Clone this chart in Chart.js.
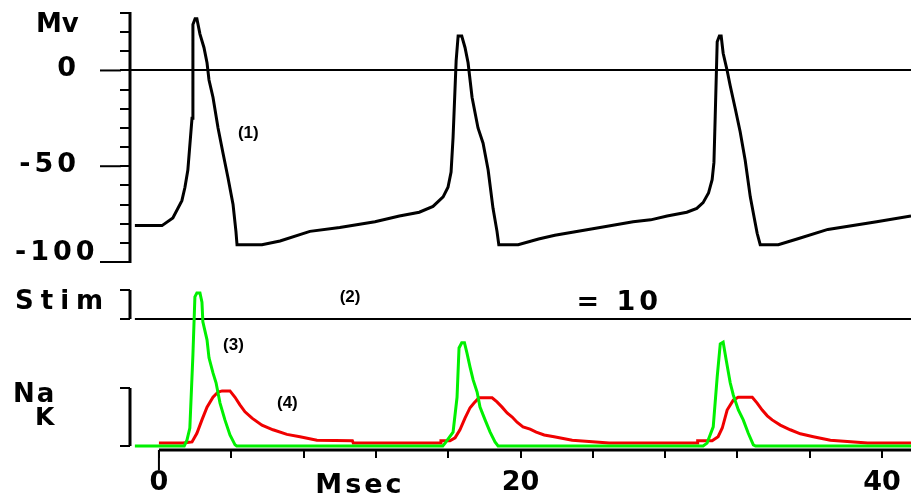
<!DOCTYPE html>
<html>
<head>
<meta charset="utf-8">
<title>Membrane potential, Na and K conductance</title>
<script src="https://cdn.jsdelivr.net/npm/chart.js@4.4.0/dist/chart.umd.min.js"></script>
<style>
  html, body { margin: 0; padding: 0; background: #fff; }
  #wrap { width: 911px; height: 495px; }
</style>
</head>
<body>
<div id="wrap"><canvas id="trace"></canvas></div>
<script>
// (1) membrane potential, time in ms, value in mV
const vTime = [-1.33, 0.17, 0.77, 1.27, 1.44, 1.6, 1.83, 1.88, 2.0, 2.1,
  2.27, 2.49, 2.66, 2.77, 2.99, 3.27, 3.54, 3.82, 4.1, 4.26,
  4.32, 5.7, 6.7, 8.35, 10.0, 11.95, 13.3, 14.4, 15.16, 15.72,
  15.99, 16.16, 16.27, 16.44, 16.55, 16.75, 16.93, 17.1, 17.32, 17.65,
  17.93, 18.21, 18.48, 18.7, 18.8, 19.87, 21.0, 21.9, 24.4, 26.23,
  27.2, 28.11, 29.2, 29.75, 30.1, 30.4, 30.6, 30.7, 30.77, 30.88,
  31.0, 31.1, 31.21, 31.43, 31.6, 31.88, 32.15, 32.43, 32.71, 32.93,
  33.09, 33.26, 34.26, 35.3, 37.0, 39.7, 41.6];
const vMv = [-81, -81, -77, -68, -61, -52, -25, 24, 27, 27,
  19, 12, 4, -5, -14, -30, -43, -56, -70, -84,
  -91, -91, -89, -84, -82, -79, -76, -74, -71, -66,
  -61, -53, -35, 5, 18, 18, 12, 4, -14, -30,
  -38, -52, -72, -84, -91, -91, -88, -86, -82, -79,
  -78, -76, -74, -72, -69, -64, -57, -48, -24, 15,
  18, 18, 9, 0, -8, -20, -32, -47, -66, -77,
  -85, -91, -91, -88, -83, -79, -76];

// (3) Na conductance, relative units (1 = top of the Na/K bracket)
const naTime = [-1.33, 1.4, 1.55, 1.71, 1.88, 1.99, 2.1, 2.27, 2.38, 2.43,
  2.66, 2.77, 2.99, 3.16, 3.38, 3.65, 3.93, 4.21, 4.3, 15.7,
  15.83, 16.27, 16.49, 16.6, 16.75, 16.9, 17.04, 17.21, 17.38, 17.6,
  17.76, 18.04, 18.32, 18.59, 18.76, 30.1, 30.32, 30.66, 30.88, 31.05,
  31.21, 31.38, 31.6, 31.77, 32.05, 32.32, 32.6, 32.88, 33.0, 41.6];
const naG = [0, 0, 0.1, 0.31, 1.57, 2.57, 2.64, 2.64, 2.48, 2.14,
  1.83, 1.52, 1.26, 1.09, 0.74, 0.45, 0.19, 0.02, 0, 0,
  0.05, 0.24, 0.84, 1.69, 1.78, 1.78, 1.6, 1.36, 1.14, 0.93,
  0.67, 0.45, 0.24, 0.07, 0, 0, 0.05, 0.33, 1.19, 1.76,
  1.79, 1.48, 1.09, 0.88, 0.62, 0.45, 0.22, 0.02, 0, 0];

// (4) K conductance, same units
const kTime = [0, 1.33, 1.83, 2.1, 2.38, 2.66, 2.99, 3.27, 3.5, 3.93,
  4.21, 4.48, 4.76, 5.15, 5.7, 6.31, 7.08, 7.8, 8.74, 10.7,
  10.75, 15.55, 15.6, 16.1, 16.38, 16.65, 16.93, 17.21, 17.43, 17.7,
  18.43, 18.7, 18.98, 19.26, 19.54, 19.81, 20.14, 20.53, 20.87, 21.31,
  21.86, 22.86, 24.9, 29.77, 29.8, 30.6, 30.93, 31.16, 31.43, 31.77,
  32.04, 32.82, 33.09, 33.37, 33.65, 33.92, 34.37, 34.92, 35.48, 36.2,
  37.14, 39.2, 41.6];
const kG = [0.05, 0.05, 0.07, 0.22, 0.45, 0.67, 0.84, 0.93, 0.95, 0.95,
  0.84, 0.71, 0.59, 0.48, 0.36, 0.28, 0.2, 0.16, 0.1, 0.09,
  0.05, 0.05, 0.09, 0.09, 0.14, 0.28, 0.48, 0.66, 0.74, 0.83,
  0.83, 0.76, 0.67, 0.57, 0.5, 0.41, 0.33, 0.29, 0.24, 0.19,
  0.16, 0.1, 0.05, 0.05, 0.09, 0.09, 0.16, 0.31, 0.62, 0.79,
  0.84, 0.84, 0.74, 0.62, 0.52, 0.45, 0.36, 0.28, 0.21, 0.16,
  0.1, 0.05, 0.05];

// (2) stimulus trace
const stimTime = [-1.33, 41.6];
const stimLevel = [0, 0];
const stimValue = 10;

// axes
const timeLabels = [0, 20, 40];
const mvLabels = [0, -50, -100];
const mvTop = 30;

// chart area edges in px, and a helper that turns two value/pixel pairs into min/max
const TOP = 13, BOTTOM = 450;
function span(v0, p0, v1, p1) {
  const k = (v1 - v0) / (p1 - p0);
  return { min: v0 + (BOTTOM - p0) * k, max: v0 + (TOP - p0) * k };
}
const mvRange = span(mvTop, TOP, -100, 262);
const stimRange = span(0, 319, 1, 290);
const gRange = span(0, 446, 1, 388);

const pairs = (xs, ys) => xs.map((t, i) => ({ x: t, y: ys[i] }));
const NONE = 'rgba(0,0,0,0)';

const frame = {
  id: 'frame',
  afterDraw(chart) {
    const { ctx, chartArea, scales } = chart;
    const x = scales.x, y = scales.y, st = scales.stim, g = scales.g;
    const ax = chartArea.left;
    ctx.save();
    ctx.strokeStyle = '#000';
    ctx.fillStyle = '#000';
    const line = (x1, y1, x2, y2, w) => {
      ctx.lineWidth = w;
      ctx.beginPath(); ctx.moveTo(x1, y1); ctx.lineTo(x2, y2); ctx.stroke();
    };
    const text = (s, px, py, size, spacing, family) => {
      ctx.font = 'bold ' + size + 'px "' + (family || 'DejaVu Sans') + '"';
      ctx.letterSpacing = (spacing || 0) + 'px';
      ctx.fillText(s, px, py);
    };
    ctx.textBaseline = 'alphabetic';
    ctx.textAlign = 'left';

    // mV axis
    const yTop = y.getPixelForValue(mvTop), yBot = y.getPixelForValue(-100);
    line(ax, yTop - 1, ax, yBot + 1, 3);
    mvLabels.forEach(v => {
      const py = y.getPixelForValue(v);
      line(ax - 30, py, ax - 9, py, 2);
      ctx.font = 'bold 27px "DejaVu Sans"';
      ctx.letterSpacing = '4px';
      const w = ctx.measureText(String(v)).width;
      text(String(v), Math.max(15, 80 - w), Math.min(py + 6, yBot - 2), 27, 4);
    });
    text('Mv', 36, 32, 26, 0);

    // stimulus bracket
    const s0 = st.getPixelForValue(0), s1 = st.getPixelForValue(1);
    line(ax, s1, ax, s0, 3);
    line(ax - 10, s1, ax, s1, 2);
    line(ax - 10, s0, ax, s0, 2);
    text('Stim', 15, s0 - 10, 26, 7);

    // Na / K bracket
    const g0 = g.getPixelForValue(0), g1 = g.getPixelForValue(1);
    line(ax, g1, ax, g0, 3);
    line(ax - 10, g1, ax, g1, 2);
    line(ax - 10, g0, ax, g0, 2);
    text('Na', 13, 402, 26, 2);
    text('K', 35, 425, 25, 0);

    // time axis line from 0, long tick at 0
    const x0 = x.getPixelForValue(0);
    line(x0, chartArea.bottom, chartArea.right, chartArea.bottom, 3);
    line(x0, chartArea.bottom, x0, chartArea.bottom + 20, 2);
    text('Msec', x.getPixelForValue(8.65), 493, 27, 3);

    // trace numbers
    text('(1)', x.getPixelForValue(4.37), y.getPixelForValue(-35.3), 17, 0, 'Liberation Sans');
    text('(2)', x.getPixelForValue(10.0), st.getPixelForValue(0.57), 17, 0, 'Liberation Sans');
    text('= ' + stimValue, x.getPixelForValue(23.1), st.getPixelForValue(0.31), 27, 4);
    text('(3)', x.getPixelForValue(3.55), g.getPixelForValue(1.66), 17, 0, 'Liberation Sans');
    text('(4)', x.getPixelForValue(6.53), g.getPixelForValue(0.65), 17, 0, 'Liberation Sans');
    ctx.restore();
  }
};

new Chart(document.getElementById('trace'), {
  type: 'line',
  data: {
    datasets: [
      { label: 'Na', data: pairs(naTime, naG), yAxisID: 'g', borderColor: '#00f000', borderWidth: 3 },
      { label: 'K', data: pairs(kTime, kG), yAxisID: 'g', borderColor: '#f00000', borderWidth: 3 },
      { label: 'Mv', data: pairs(vTime, vMv), yAxisID: 'y', borderColor: '#000', borderWidth: 3 },
      { label: 'Stim', data: pairs(stimTime, stimLevel), yAxisID: 'stim', borderColor: '#000', borderWidth: 2 }
    ]
  },
  options: {
    responsive: true,
    maintainAspectRatio: false,
    animation: false,
    events: [],
    layout: { padding: { top: TOP, left: 0, right: 0, bottom: 0 }, autoPadding: false },
    elements: {
      point: { radius: 0 },
      line: { tension: 0, fill: false, borderJoinStyle: 'miter', borderCapStyle: 'butt' }
    },
    plugins: { legend: { display: false }, tooltip: { enabled: false } },
    scales: {
      x: {
        type: 'linear',
        min: -1.6,
        max: 41.6,
        border: { display: false },
        grid: { drawOnChartArea: false, tickLength: 8, lineWidth: 2, tickWidth: 2, tickColor: '#000' },
        ticks: {
          stepSize: 4,
          includeBounds: false,
          autoSkip: false,
          maxRotation: 0,
          padding: 9,
          color: '#000',
          font: { family: 'DejaVu Sans', weight: 'bold', size: 27 },
          callback: v => timeLabels.includes(v) ? String(v) : ''
        },
        afterFit: s => { s.height = 495 - BOTTOM; }
      },
      y: {
        type: 'linear',
        position: 'left',
        min: mvRange.min,
        max: mvRange.max,
        border: { display: false },
        grid: {
          color: c => (c.tick && c.tick.value === 0) ? '#000' : NONE,
          lineWidth: 2,
          tickLength: 10,
          tickWidth: 2,
          tickColor: c => (c.tick && c.tick.value >= -100.5 && c.tick.value <= mvTop + 0.5) ? '#000' : NONE
        },
        ticks: { display: false, stepSize: 10, includeBounds: false },
        afterFit: s => { s.width = 130; }
      },
      stim: { type: 'linear', display: false, min: stimRange.min, max: stimRange.max },
      g: { type: 'linear', display: false, min: gRange.min, max: gRange.max }
    }
  },
  plugins: [frame]
});
</script>
</body>
</html>
